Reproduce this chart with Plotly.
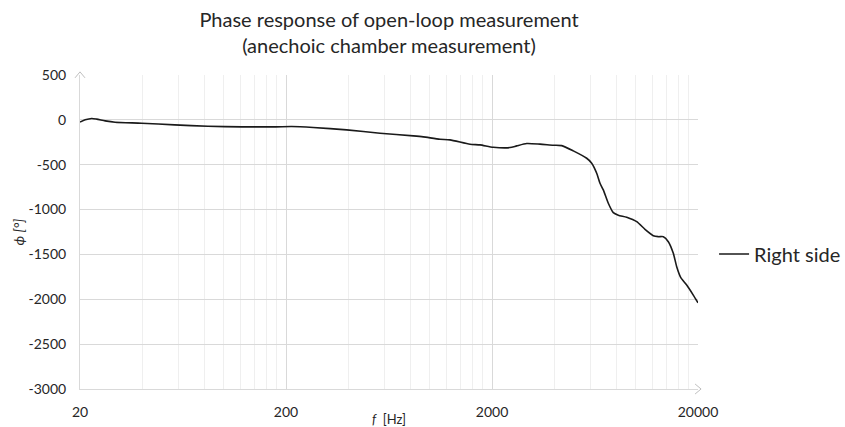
import plotly.graph_objects as go

freq_hz = [20, 21.2, 22.8, 24.1, 26.5, 29.6, 39.8, 57.6, 83.5, 122, 178, 213,
           271, 394, 572, 830, 928, 1118, 1250, 1564, 1750, 2028,
           2446, 2636, 2948, 3420, 3970, 4359, 4962, 5764, 6096, 6446, 6687,
           6940, 7338, 7760, 8206, 9014, 10080, 11060, 12134, 12830, 13574,
           14354, 15176, 15764, 16480, 17624, 18972, 20000]
phase_deg = [-25, 0, 15, 8, -11, -26, -37, -56, -71, -78, -78, -74,
             -85, -112, -149, -179, -190, -216, -223, -272, -279, -305,
             -309, -290, -264, -271, -283, -287, -346, -428, -483, -595, -707,
             -781, -930, -1034, -1063, -1086, -1135, -1220, -1291, -1302, -1302,
             -1358, -1488, -1637, -1756, -1841, -1953, -2040]

x_ticks = [20, 200, 2000, 20000]
x_tick_text = ["20", "200", "2000", "20000"]
x_minor = [20 * k * 10 ** d for d in range(3) for k in range(2, 10)]
y_ticks = list(range(-3000, 501, 500))
y_tick_text = [str(v) for v in y_ticks]

FONT = "Lato, 'Open Sans', sans-serif"
GRID = "#d9d9d9"

fig = go.Figure()
fig.add_trace(go.Scatter(
    x=freq_hz, y=phase_deg, mode="lines", name="Right side",
    line=dict(color="#1a1a1a", width=1.6, shape="spline", smoothing=0.6),
))

fig.update_layout(
    width=845, height=427,
    margin=dict(l=80, r=147, t=75, b=38, autoexpand=False),
    paper_bgcolor="white", plot_bgcolor="white",
    font=dict(family=FONT, color="#262626", size=14),
    title=dict(
        text="Phase response of open-loop measurement<br>(anechoic chamber measurement)",
        x=0.5, xanchor="center", xref="paper",
        y=0.937, yref="container", yanchor="top",
        font=dict(family=FONT, size=20, color="#262626"),
    ),
    showlegend=True,
    legend=dict(
        x=1.026, xanchor="left", y=0.43, yanchor="middle",
        font=dict(family=FONT, size=20, color="#262626"),
        itemwidth=30, bgcolor="rgba(0,0,0,0)",
    ),
    xaxis=dict(
        type="log", range=[1.30103, 4.30103],
        tickmode="array", tickvals=x_ticks, ticktext=x_tick_text,
        showgrid=True, gridcolor=GRID, gridwidth=1,
        minor=dict(tickmode="array", tickvals=x_minor, showgrid=True,
                   gridcolor="#efefef", gridwidth=1, ticks=""),
        showline=True, linecolor=GRID, linewidth=1,
        ticks="", ticklabelstandoff=10,
        zeroline=False,
        title=dict(text="<i>f</i>  [Hz]", standoff=0,
                   font=dict(family=FONT, size=13, color="#262626")),
    ),
    yaxis=dict(
        range=[-3000, 500], tickmode="array", tickvals=y_ticks, ticktext=y_tick_text,
        showgrid=True, gridcolor=GRID, gridwidth=1,
        showline=True, linecolor=GRID, linewidth=1,
        ticks="", ticklabelstandoff=10, zeroline=False,
        title=dict(text="<i>ϕ [°]</i>", standoff=0,
                   font=dict(family=FONT, size=14, color="#262626")),
    ),
)

# axis end arrows (decoration)
dx = 6 / 618
dy = 5 / 314
fig.add_shape(type="path", xref="paper", yref="paper",
              path=f"M {1 - dx + 0.005} {-dy} L {1 + 0.005} 0 L {1 - dx + 0.005} {dy}",
              line=dict(color="#bfbfbf", width=1))
fig.add_shape(type="path", xref="paper", yref="paper",
              path=f"M {-5 / 618} {1 - 6 / 314 + 0.01} L 0 {1 + 0.01} L {5 / 618} {1 - 6 / 314 + 0.01}",
              line=dict(color="#bfbfbf", width=1))

fig.write_html("out.html", config={"displayModeBar": False},
               post_script="document.body.style.margin='0';")
